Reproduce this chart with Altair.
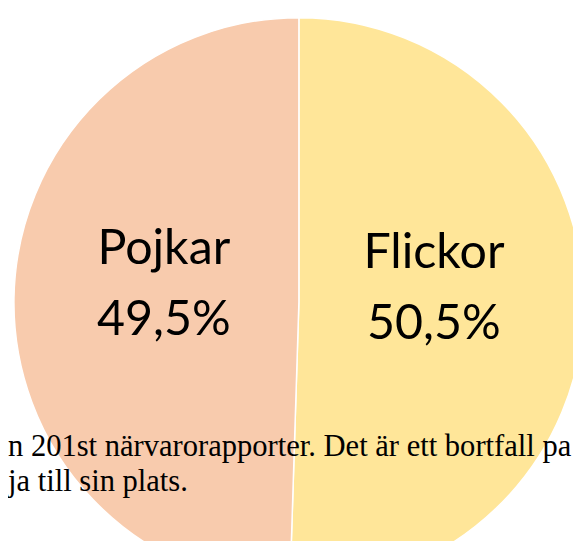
import altair as alt
import pandas as pd

# --- data ---
categories = ["Flickor", "Pojkar"]
shares = [50.5, 49.5]
label_texts = ["Flickor\n50,5%", "Pojkar\n49,5%"]
slice_order = [0, 1]
colors = ["#FFE699", "#F8CBAD"]
note_lines = [
    "n 201st närvarorapporter. Det är ett bortfall pa",
    "ja till sin plats.",
]
note_index = [0, 1]

df = pd.DataFrame({
    "kategori": categories,
    "andel": shares,
    "etikett": label_texts,
    "ordning": slice_order,
})
note_df = pd.DataFrame({"rad": note_lines, "i": note_index})

CX, CY = 295, 295

base = alt.Chart(df).encode(
    theta=alt.Theta("andel:Q", stack=True),
    order=alt.Order("ordning:Q"),
    x=alt.value(CX),
    y=alt.value(CY),
)

pie = base.mark_arc(radius=289, stroke="white", strokeWidth=1.5).encode(
    color=alt.Color("kategori:N", scale=alt.Scale(domain=categories, range=colors), legend=None)
)

labels = base.mark_text(
    radius=137, font="Lato", fontSize=49, lineHeight=72, lineBreak="\n",
    align="center", baseline="middle", dy=-52, color="black",
).encode(text="etikett:N")

note = alt.Chart(note_df).mark_text(
    font="Liberation Serif", fontSize=31, align="left", baseline="alphabetic", color="black"
).encode(
    x=alt.value(0),
    y=alt.Y("i:Q", scale=alt.Scale(domain=[0, 1], range=[451, 486]), axis=None),
    text="rad:N",
)

chart = alt.layer(pie, labels, note).properties(
    width=573, height=533, padding=0, autosize="none"
).configure_view(stroke=None)

chart.save("out.html", embed_options={"renderer": "svg", "actions": False})
